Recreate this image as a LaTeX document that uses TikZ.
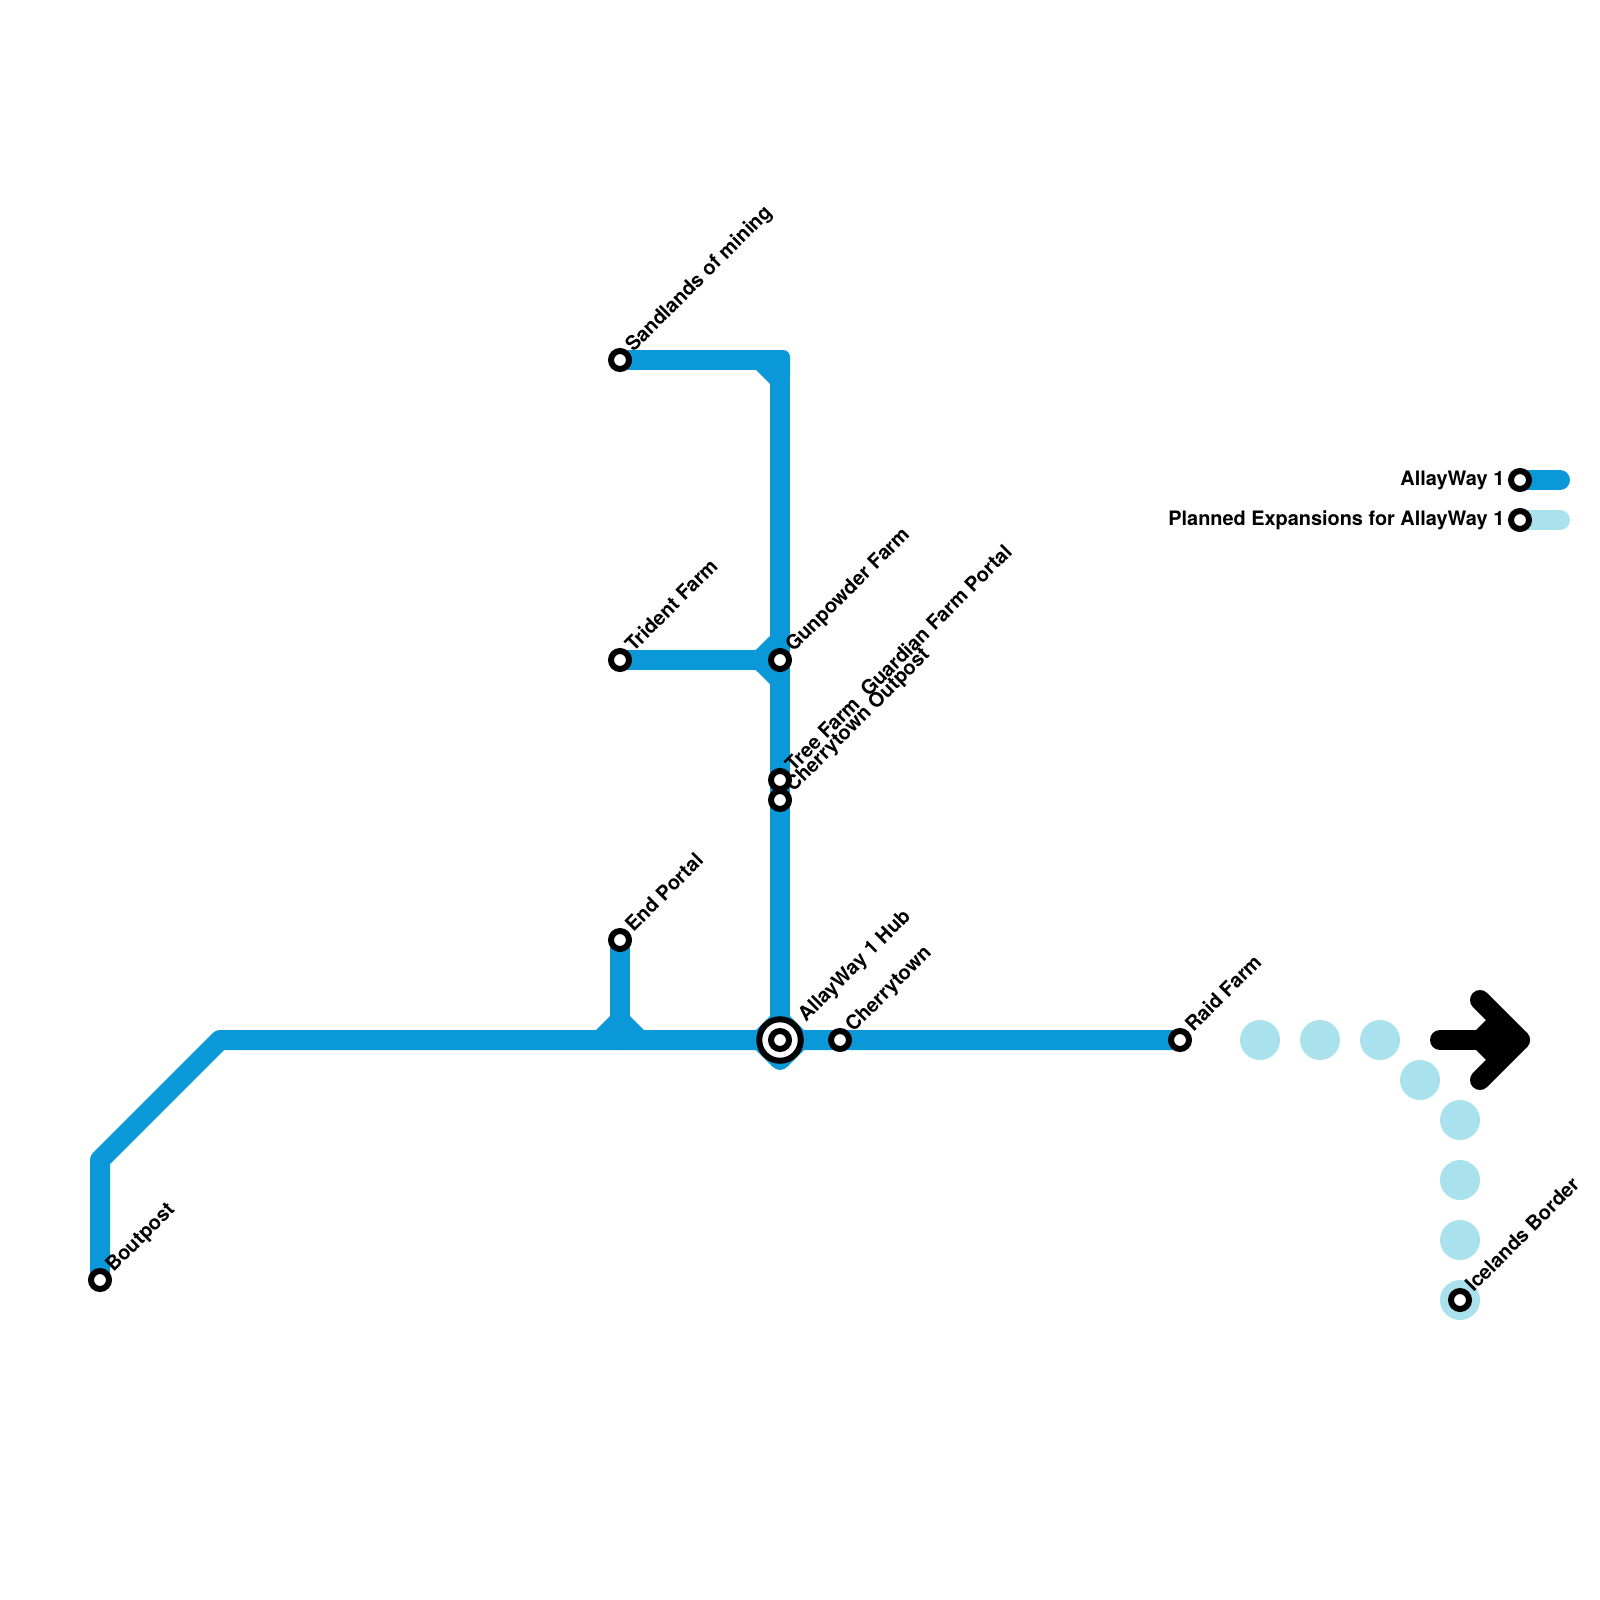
\documentclass[tikz,border=0pt]{standalone}
\usepackage{fontspec}
\setmainfont{TeX Gyre Heros}
\definecolor{lineblue}{HTML}{0A98D8}
\definecolor{planblue}{HTML}{A9E2EC}
\tikzset{
  metro/.style={line width=20pt,draw=lineblue,line cap=round,line join=round},
  plan/.style={line width=20pt,draw=planblue,line cap=round},
  chamfer/.style={fill=lineblue,draw=none},
  dotstop/.style={circle,fill=planblue,draw=none,minimum size=40pt,inner sep=0pt},
  stopmark/.style={circle,draw=black,fill=white,line width=6pt,minimum size=18pt,inner sep=0pt,outer sep=0pt},
  hubring/.style={circle,draw=black,fill=white,line width=6pt,minimum size=41.5pt,inner sep=0pt,outer sep=0pt},
  lab/.style={font=\bfseries\fontsize{20}{22}\selectfont,text=black,inner sep=0pt,anchor=base west,rotate=45},
  leglab/.style={font=\bfseries\fontsize{19.9}{22}\selectfont,text=black,inner sep=0pt,anchor=base east},
}
\begin{document}
\begin{tikzpicture}[x=1pt,y=-1pt]
\useasboundingbox (0,0) rectangle (1600,1600);
% anchors
\coordinate (pB) at (100,1280);
\coordinate (pB1) at (100,1160);
\coordinate (pB2) at (220,1040);
\coordinate (pR) at (1180,1040);
\coordinate (pE) at (620,940);
\coordinate (pEj) at (620,1040);
\coordinate (pS) at (620,360);
\coordinate (pC) at (780,360);
\coordinate (pT) at (620,660);
\coordinate (pG) at (780,660);
\coordinate (pH) at (780,1040);
\coordinate (pL1a) at (1520,480);
\coordinate (pL1b) at (1560,480);
\coordinate (pL2a) at (1520,520);
\coordinate (pL2b) at (1560,520);
\coordinate (aTail) at (1440,1040);
\coordinate (aTip) at (1520,1040);
\coordinate (aUp) at (1480,1000);
\coordinate (aDn) at (1480,1080);
% lines
\draw[plan] (pL2a) -- (pL2b);
\draw[metro] (pL1a) -- (pL1b);
\draw[metro] (pB) -- (pB1) -- (pB2) -- (pR);
\draw[metro] (pE) -- (pEj);
\draw[metro,line cap=butt] (pS) -- (pC) -- (pH);
\draw[metro] (pT) -- (pG);
% chamfers
\fill[chamfer,rounded corners=7pt] (756,350) -- (790,350) -- (790,384) [sharp corners] -- (770,384) -- (756,370) -- cycle;
\fill[chamfer] (755.7,650) -- (770,636) -- (770,684) -- (755.7,670) -- cycle;
\fill[chamfer] (596,1030) -- (610,1016) -- (630,1016) -- (644,1030) -- cycle;
\fill[chamfer] (756,1030) -- (770,1016) -- (790,1016) -- (804,1030) -- (804,1050) -- (788,1066) [rounded corners=4pt] -- (784,1070) -- (776,1070) [sharp corners] -- (772,1066) -- (756,1050) -- cycle;
% arrow
\draw[line width=20pt,line cap=round] (aTail) -- (aTip);
\draw[line width=20pt,line cap=round,line join=round] (aUp) -- (aTip) -- (aDn);
\fill (1476,1030) -- (1486,1020) -- (1500,1020) -- (1500,1060) -- (1486,1060) -- (1476,1050) -- cycle;
% planned stops
\node[dotstop] (d1) at (1260,1040) {};
\node[dotstop] (d2) at (1320,1040) {};
\node[dotstop] (d3) at (1380,1040) {};
\node[dotstop] (d4) at (1420,1080) {};
\node[dotstop] (d5) at (1460,1120) {};
\node[dotstop] (d6) at (1460,1180) {};
\node[dotstop] (d7) at (1460,1240) {};
\node[dotstop] (d8) at (1460,1300) {};
% labels
\node[lab] (tB) at (113.5,1273) {Boutpost};
\node[lab] (tS) at (633.5,353) {Sandlands of mining};
\node[lab] (tT) at (633.5,653) {Trident Farm};
\node[lab] (tG) at (793.5,653) {Gunpowder Farm};
\node[lab] (tF) at (793.5,773) {Tree Farm\ \ Guardian Farm Portal};
\node[lab] (tO) at (793.5,793) {Cherrytown Outpost};
\node[lab] (tE) at (633.5,933) {End Portal};
\node[lab] (tH) at (806,1023) {AllayWay 1 Hub};
\node[lab] (tC) at (853.5,1033) {Cherrytown};
\node[lab] (tR) at (1193.5,1033) {Raid Farm};
\node[lab] (tI) at (1473.5,1293) {Icelands Border};
\node[leglab] (tL1) at (1504.5,485) {AllayWay 1};
\node[leglab] (tL2) at (1504.5,525) {Planned Expansions for AllayWay 1};
% stations
\node[stopmark] (sB) at (pB) {};
\node[stopmark] (sS) at (pS) {};
\node[stopmark] (sT) at (pT) {};
\node[stopmark] (sG) at (pG) {};
\node[stopmark] (sF) at (780,780) {};
\node[stopmark] (sO) at (780,800) {};
\node[stopmark] (sE) at (pE) {};
\node[hubring] (sH) at (pH) {};
\node[stopmark] (sH2) at (pH) {};
\node[stopmark] (sC) at (840,1040) {};
\node[stopmark] (sR) at (pR) {};
\node[stopmark] (sI) at (1460,1300) {};
\node[stopmark] (sL1) at (pL1a) {};
\node[stopmark] (sL2) at (pL2a) {};
\end{tikzpicture}
\end{document}
